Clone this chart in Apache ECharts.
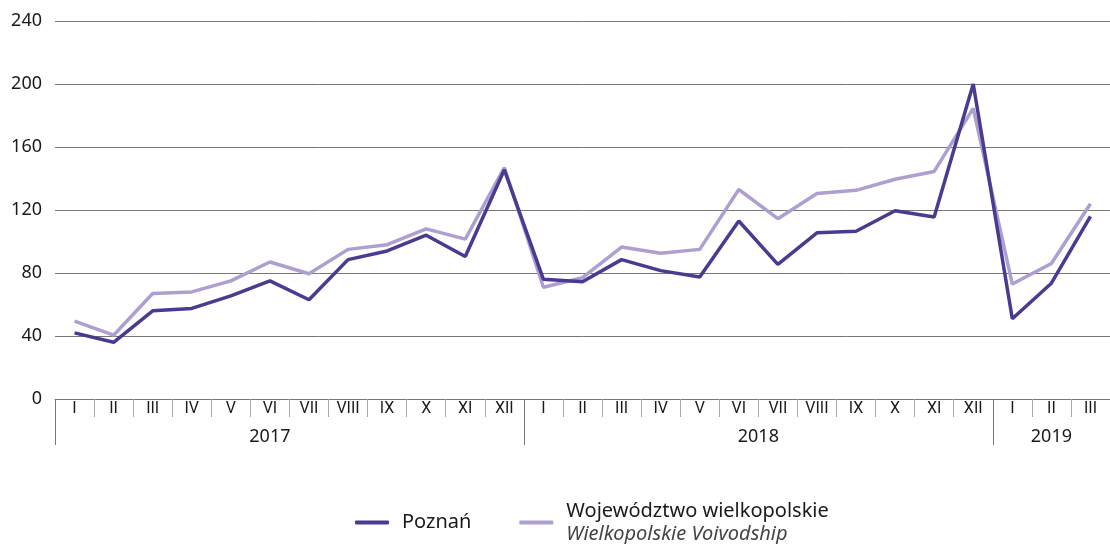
<!DOCTYPE html>
<html>
<head>
<meta charset="utf-8">
<script src="https://cdn.jsdelivr.net/npm/echarts@6/dist/echarts.min.js"></script>
<style>
html,body{margin:0;padding:0;background:#fff;}
#chart{width:1110px;height:544px;}
</style>
</head>
<body>
<div id="chart"></div>
<script>
const months = ['I','II','III','IV','V','VI','VII','VIII','IX','X','XI','XII',
                'I','II','III','IV','V','VI','VII','VIII','IX','X','XI','XII',
                'I','II','III'];
const years = ['2017','2018','2019'];
const yearStarts = [0, 12, 24];
const yearCenters = [5.5, 18, 25.5];
const poznan = [42, 36, 56, 57.5, 65.5, 75, 63, 88.5, 94, 104, 90.5, 145.5,
                76, 74.5, 88.5, 81.5, 77.5, 113, 85.5, 105.5, 106.5, 119.5, 115.5, 200,
                51, 73.5, 116];
const wielkopolskie = [49.5, 40.5, 67, 68, 75, 87, 79.5, 95, 98, 108, 101.5, 147,
                       71, 77, 96.5, 92.5, 95, 133, 114.5, 130.5, 132.5, 139.5, 144.5, 184.5,
                       73, 86, 124];
const seriesNames = ['Poznań', 'Województwo wielkopolskie'];
const seriesNamesEn = ['', 'Wielkopolskie Voivodship'];
const yTicks = [0, 40, 80, 120, 160, 200, 240];

const FONT = '"Noto Sans", "Open Sans", sans-serif';
const MFONT = 'Roboto, "Noto Sans", sans-serif';
const DARK = '#4a3a92';
const LIGHT = '#ae9fd0';

const chart = echarts.init(document.getElementById('chart'), null, {renderer: 'canvas'});
chart.setOption({
  animation: false,
  grid: {left: 55, right: 0, top: 21, bottom: 145, containLabel: false},
  xAxis: [
    {
      type: 'category',
      data: months,
      boundaryGap: true,
      position: 'bottom',
      axisLine: {show: true, lineStyle: {color: '#777', width: 1}},
      axisTick: {show: true, interval: 0, length: 18, lineStyle: {color: '#aaa', width: 1}},
      axisLabel: {interval: 0, margin: 2, fontFamily: MFONT, fontSize: 16, color: '#1a1a1a', verticalAlign: 'top'},
      splitLine: {show: false}
    },
    {
      type: 'value',
      min: 0,
      max: months.length,
      position: 'bottom',
      axisLine: {show: false},
      axisTick: {show: true, customValues: yearStarts, length: 46, lineStyle: {color: '#777', width: 1}},
      axisLabel: {
        customValues: yearCenters,
        margin: 29,
        fontFamily: FONT, fontSize: 18, color: '#1a1a1a', verticalAlign: 'top',
        formatter: function (v) {
          const i = yearCenters.indexOf(v);
          return i >= 0 ? years[i] : '';
        }
      },
      splitLine: {show: false}
    }
  ],
  yAxis: {
    type: 'value',
    min: 0, max: 240, interval: 40,
    axisLine: {show: false},
    axisTick: {show: false},
    axisLabel: {
      margin: 13, fontFamily: FONT, fontSize: 18, color: '#1a1a1a',
      customValues: yTicks
    },
    splitLine: {show: true, lineStyle: {color: '#777', width: 1}}
  },
  legend: {
    left: 350,
    top: 496,
    itemWidth: 34,
    itemHeight: 4,
    itemGap: 48,
    icon: 'roundRect',
    data: seriesNames,
    textStyle: {
      fontFamily: FONT, fontSize: 20, color: '#1a1a1a', padding: [0, 0, 0, 8],
      rich: {
        a: {fontFamily: FONT, fontSize: 20, color: '#1a1a1a', lineHeight: 23},
        b: {fontFamily: FONT, fontSize: 20, color: '#444', fontStyle: 'italic', lineHeight: 23}
      }
    },
    formatter: function (name) {
      const i = seriesNames.indexOf(name);
      if (seriesNamesEn[i]) return '{a|' + name + '}\n{b|' + seriesNamesEn[i] + '}';
      return '{a|' + name + '}';
    }
  },
  series: [
    {
      name: seriesNames[1],
      type: 'line',
      data: wielkopolskie,
      xAxisIndex: 0,
      showSymbol: false,
      symbol: 'none',
      lineStyle: {color: LIGHT, width: 3.5},
      itemStyle: {color: LIGHT},
      z: 2
    },
    {
      name: seriesNames[0],
      type: 'line',
      data: poznan,
      xAxisIndex: 0,
      showSymbol: false,
      symbol: 'none',
      lineStyle: {color: DARK, width: 3.5},
      itemStyle: {color: DARK},
      z: 3
    }
  ]
});
</script>
</body>
</html>
